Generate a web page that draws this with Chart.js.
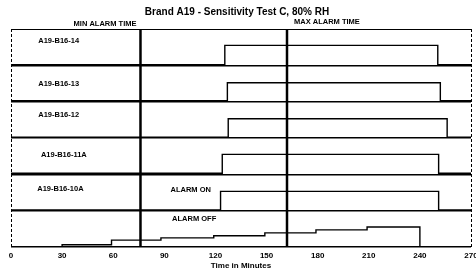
<!DOCTYPE html>
<html>
<head>
<meta charset="utf-8">
<script src="https://cdn.jsdelivr.net/npm/chart.js@4"></script>
<style>
  body { margin: 0; background: #fff; }
</style>
</head>
<body>
<canvas id="grafico" width="476" height="270"></canvas>
<script>
    // Datos (minutos / nivel de banda)
    const chartTitle = 'Brand A19 - Sensitivity Test C, 80% RH';
    const xTitle = 'Time in Minutes';
    const xTicks = [0, 30, 60, 90, 120, 150, 180, 210, 240, 270];
    const sensorNames = ['A19-B16-14', 'A19-B16-13', 'A19-B16-12', 'A19-B16-11A', 'A19-B16-10A'];

    const t14 = [0, 125.5, 250.5, 270];
    const v14 = [5.02, 5.55, 5.02, 5.02];
    const t13 = [0, 127, 252, 270];
    const v13 = [4.03, 4.52, 4.03, 4.03];
    const t12 = [0, 127.5, 256, 270];
    const v12 = [3.02, 3.53, 3.02, 3.02];
    const t11A = [0, 124, 251, 270];
    const v11A = [2.03, 2.55, 2.03, 2.03];
    const t10A = [0, 123, 251, 270];
    const v10A = [1.02, 1.53, 1.02, 1.02];
    const tOff = [0, 30, 59, 88, 119, 149, 179, 209, 240, 270];
    const vOff = [0, 0.06, 0.19, 0.25, 0.31, 0.39, 0.47, 0.55, 0, 0];

    const minAlarm = 76;
    const maxAlarm = 162;

    const FONT = '"Liberation Sans", Arial, sans-serif';

    function serie(ts, vs) {
        return {
            data: ts.map((t, i) => ({ x: t, y: vs[i] })),
            borderColor: '#000',
            borderWidth: 1.4,
            pointRadius: 0,
            stepped: 'before',
            fill: false
        };
    }

    function lineaAlarma(min) {
        return {
            data: [{ x: min, y: 0 }, { x: min, y: 6 }],
            borderColor: '#000',
            borderWidth: 2.5,
            pointRadius: 0,
            fill: false
        };
    }

    // Textos sobre el grafico
    const textos = {
        id: 'textos',
        afterDraw(chart) {
            const ctx = chart.ctx;
            const x = chart.scales.x;
            const y = chart.scales.y;
            ctx.save();
            ctx.fillStyle = '#000';
            ctx.textBaseline = 'middle';

            ctx.textAlign = 'center';
            ctx.font = 'bold 10px ' + FONT;
            ctx.fillText(chartTitle, 237, 12);

            ctx.font = 'bold 7.5px ' + FONT;
            ctx.textAlign = 'right';
            ctx.fillText('MIN ALARM TIME', x.getPixelForValue(minAlarm) - 4, 24);
            ctx.textAlign = 'left';
            ctx.fillText('MAX ALARM TIME', x.getPixelForValue(maxAlarm) + 7, 22);

            const anclas = [5.67, 4.49, 3.64, 2.53, 1.6];
            const anclasX = [28, 28, 28, 31, 29];
            ctx.textAlign = 'center';
            sensorNames.forEach((n, i) => {
                ctx.fillText(n, x.getPixelForValue(anclasX[i]), y.getPixelForValue(anclas[i]));
            });
            ctx.fillText('ALARM ON', x.getPixelForValue(105.5), y.getPixelForValue(1.57));
            ctx.fillText('ALARM OFF', x.getPixelForValue(107.5), y.getPixelForValue(0.77));

            ctx.font = 'bold 8px ' + FONT;
            ctx.fillText(xTitle, (chart.chartArea.left + chart.chartArea.right) / 2, 266);
            ctx.restore();
        }
    };

    new Chart(document.getElementById('grafico'), {
        type: 'line',
        data: {
            datasets: [
                serie(t14, v14),
                serie(t13, v13),
                serie(t12, v12),
                serie(t11A, v11A),
                serie(t10A, v10A),
                serie(tOff, vOff),
                lineaAlarma(minAlarm),
                lineaAlarma(maxAlarm)
            ]
        },
        options: {
            responsive: false,
            animation: false,
            devicePixelRatio: 1,
            layout: { padding: { top: 29, right: 5, left: 0, bottom: 0 } },
            plugins: {
                legend: { display: false },
                tooltip: { enabled: false },
                title: { display: false }
            },
            scales: {
                x: {
                    type: 'linear',
                    min: 0,
                    max: 270,
                    afterBuildTicks: s => { s.ticks = xTicks.map(v => ({ value: v })); },
                    afterFit: s => { s.height = 23; s.paddingLeft = 0; s.paddingRight = 0; },
                    ticks: {
                        color: '#000',
                        padding: 4,
                        maxRotation: 0,
                        font: { family: FONT, size: 8, weight: 'bold' }
                    },
                    grid: {
                        drawTicks: false,
                        lineWidth: 1,
                        color: c => (c.tick && (c.tick.value === 0 || c.tick.value === 270)) ? '#000' : 'rgba(0,0,0,0)'
                    },
                    border: { display: false, dash: [3, 2] }
                },
                y: {
                    min: 0,
                    max: 6,
                    afterBuildTicks: s => { s.ticks = [0, 1, 2, 3, 4, 5, 6].map(v => ({ value: v })); },
                    afterFit: s => { s.width = 11; },
                    ticks: { display: false },
                    grid: {
                        drawTicks: false,
                        color: '#000',
                        lineWidth: c => (c.tick && c.tick.value === 6) ? 1 : 1.6
                    },
                    border: { display: false }
                }
            }
        },
        plugins: [textos]
    });
</script>
</body>
</html>
